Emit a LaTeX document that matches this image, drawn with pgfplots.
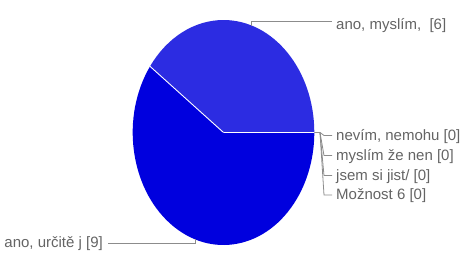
\documentclass[border=0pt]{standalone}
\usepackage{fontspec}
\setmainfont{Liberation Sans}
\usepackage{pgfplots}
\usepackage{pgfplotstable}
\pgfplotsset{compat=1.18}
\definecolor{sliceA}{RGB}{44,44,226}
\definecolor{sliceB}{RGB}{0,0,222}
\definecolor{txt}{RGB}{100,100,100}
\definecolor{lead}{RGB}{140,140,140}

\pgfplotstableread{
idx count
0 6
1 9
2 0
3 0
4 0
5 0
}\piedata
\pgfplotstablegetelem{0}{count}\of\piedata\edef\cA{\pgfplotsretval}
\pgfplotstablegetelem{1}{count}\of\piedata\edef\cB{\pgfplotsretval}
\pgfplotstablegetelem{2}{count}\of\piedata\edef\cC{\pgfplotsretval}
\pgfplotstablegetelem{3}{count}\of\piedata\edef\cD{\pgfplotsretval}
\pgfplotstablegetelem{4}{count}\of\piedata\edef\cE{\pgfplotsretval}
\pgfplotstablegetelem{5}{count}\of\piedata\edef\cF{\pgfplotsretval}
\pgfmathsetmacro\tot{\cA+\cB+\cC+\cD+\cE+\cF}
\pgfmathsetmacro\angA{360*\cA/\tot}
\pgfmathsetmacro\angB{\angA+360*\cB/\tot}
\pgfmathsetmacro\midA{\angA/2}
\pgfmathsetmacro\midB{\angA+180*\cB/\tot}

\begin{document}
\begin{tikzpicture}
\useasboundingbox (0,0) rectangle (466pt,255pt);
\begin{axis}[at={(0,0)}, anchor=origin, x=1pt, y=1pt, xmin=0, xmax=466, ymin=0, ymax=255,
  scale only axis, hide axis, clip=false]
\fill[sliceA] (axis cs:223.5,122.5) -- ++(0:90.8pt and 112.5pt) arc[start angle=0, end angle=\angA, x radius=90.8pt, y radius=112.5pt] -- cycle;
\fill[sliceB] (axis cs:223.5,122.5) -- ++(\angA:90.8pt and 112.5pt) arc[start angle=\angA, end angle=\angB, x radius=90.8pt, y radius=112.5pt] -- cycle;
\draw[white, line width=0.9pt] (axis cs:223.5,122.5) -- ++(0:90.8pt and 112.5pt);
\draw[white, line width=0.9pt] (axis cs:223.5,122.5) -- ++(\angA:90.8pt and 112.5pt);
% leaders
\draw[lead, line width=0.8pt] (axis cs:223.5,122.5) ++(\midA:90.8pt and 112.5pt) |- (axis cs:332,234);
\draw[lead, line width=0.8pt] (axis cs:223.5,122.5) ++(\midB:90.8pt and 112.5pt) |- (axis cs:108,12);
\draw[lead, line width=0.8pt] (axis cs:314.3,122.5) -- (axis cs:320,122.5) -- (axis cs:324,119.5) -- (axis cs:332,119.5);
\draw[lead, line width=0.8pt] (axis cs:320,122.5) -- (axis cs:324,99.5) -- (axis cs:332,99.5);
\draw[lead, line width=0.8pt] (axis cs:320,122.5) -- (axis cs:324,79.5) -- (axis cs:332,79.5);
\draw[lead, line width=0.8pt] (axis cs:320,122.5) -- (axis cs:324,60) -- (axis cs:332,60);
\begin{scope}[every node/.style={txt, font=\fontsize{15}{18}\selectfont, inner sep=0pt}]
\node[anchor=base west] at (axis cs:336,226) {ano, myslím,~~[\cA]};
\node[anchor=base east] at (axis cs:103,8) {ano, určitě j [\cB]};
\node[anchor=base west] at (axis cs:336,115) {nevím, nemohu [\cC]};
\node[anchor=base west] at (axis cs:336,95) {myslím že nen [\cD]};
\node[anchor=base west] at (axis cs:336,75) {jsem si jist/ [\cE]};
\node[anchor=base west] at (axis cs:336,56) {Možnost 6 [\cF]};
\end{scope}
\end{axis}
\end{tikzpicture}
\end{document}
